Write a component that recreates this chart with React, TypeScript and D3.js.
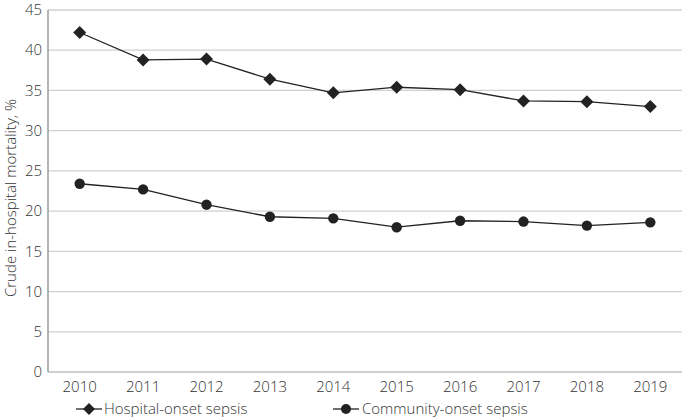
import React from "react";
import * as d3 from "d3";

const years = ["2010","2011","2012","2013","2014","2015","2016","2017","2018","2019"];
const hospitalOnset = [42.2, 38.8, 38.9, 36.4, 34.7, 35.4, 35.1, 33.7, 33.6, 33.0];
const communityOnset = [23.4, 22.7, 20.8, 19.3, 19.1, 18.0, 18.8, 18.7, 18.2, 18.6];
const yTicks = [0, 5, 10, 15, 20, 25, 30, 35, 40, 45];

const W = 685, H = 419;
const left = 48, right = 682, top = 10, bottom = 372;
const FONT = "'Open Sans', sans-serif";
const TXT = "#333";
const FS = 15;

export default function App() {
  const x = d3.scaleBand<string>().domain(years).range([left, right]);
  const y = d3.scaleLinear().domain([0, 45]).range([bottom, top]);
  const cx = (d: string) => (x(d) ?? 0) + x.bandwidth() / 2;
  const line = d3.line<number>().x((_, i) => cx(years[i])).y((v) => y(v));
  const diamond = (px: number, py: number, r = 6.5) =>
    `M${px},${py - r}L${px + r},${py}L${px},${py + r}L${px - r},${py}Z`;

  return (
    <svg width={W} height={H} style={{ position: "absolute", left: 0, top: 0, background: "#fff" }}>
      {yTicks.map((t) => (
        <g key={t}>
          <line x1={left} x2={right} y1={y(t)} y2={y(t)} stroke={t === 0 ? "#bfbfbf" : "#d0d0d0"} strokeWidth={1.3} />
          <text x={left - 6} y={y(t)} dy="0.35em" textAnchor="end" fontFamily={FONT} fontWeight={300} fontSize={FS} fill={TXT}>{t}</text>
        </g>
      ))}
      <line x1={left} x2={left} y1={top} y2={bottom} stroke="#8c8c8c" strokeWidth={1.3} />
      {years.map((yr) => (
        <text key={yr} x={cx(yr)} y={392} textAnchor="middle" fontFamily={FONT} fontWeight={300} fontSize={FS} fill={TXT}>{yr}</text>
      ))}
      <text transform={`translate(11,198) rotate(-90)`} textAnchor="middle" dy="0.35em" fontFamily={FONT} fontWeight={300} fontSize={FS} fill={TXT}>Crude in-hospital mortality, %</text>

      <path d={line(hospitalOnset) ?? ""} fill="none" stroke="#222" strokeWidth={1.3} />
      {hospitalOnset.map((v, i) => (
        <path key={i} d={diamond(cx(years[i]), y(v))} fill="#222" />
      ))}
      <path d={line(communityOnset) ?? ""} fill="none" stroke="#222" strokeWidth={1.3} />
      {communityOnset.map((v, i) => (
        <circle key={i} cx={cx(years[i])} cy={y(v)} r={5.2} fill="#222" />
      ))}

      <line x1={76} x2={102} y1={409} y2={409} stroke="#222" strokeWidth={1.3} />
      <path d={diamond(89, 409, 6)} fill="#222" />
      <text x={104} y={409} dy="0.35em" fontFamily={FONT} fontWeight={300} fontSize={FS} fill={TXT}>Hospital-onset sepsis</text>
      <line x1={333} x2={359} y1={409} y2={409} stroke="#222" strokeWidth={1.3} />
      <circle cx={346} cy={409} r={5} fill="#222" />
      <text x={362} y={409} dy="0.35em" fontFamily={FONT} fontWeight={300} fontSize={FS} fill={TXT}>Community-onset sepsis</text>
    </svg>
  );
}
